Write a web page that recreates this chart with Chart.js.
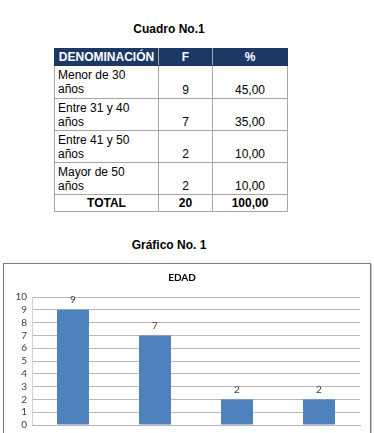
<!DOCTYPE html>
<html>
<head>
<meta charset="utf-8">
<script src="https://cdn.jsdelivr.net/npm/chart.js@4"></script>
<style>
    html, body { margin: 0; padding: 0; width: 374px; height: 433px; overflow: hidden; background: #fff; }
    .heading { position: absolute; left: 54px; width: 230px; text-align: center; font: bold 12px 'Liberation Sans', Arial, sans-serif; color: #000; }
    #cuadro { position: absolute; left: 54px; top: 48px; border-collapse: collapse; font: 12px 'Liberation Sans', Arial, sans-serif; color: #000; }
    #cuadro td, #cuadro th { border: 1.5px solid #a6a6a6; padding: 0 3px; line-height: 14px; }
    #cuadro th { background: #1c3966; color: #fff; height: 16px; font-weight: bold; border-color: #1c3966; border-right-color: #a6a6a6; }
    #cuadro th:last-child { border-right-color: #1c3966; }
    #cuadro td.num { text-align: center; vertical-align: bottom; padding-bottom: 1px; }
    #cuadro td.cat { vertical-align: top; padding-top: 2px; text-align: left; }
    #cuadro tr.total td { font-weight: bold; text-align: center; height: 16px; vertical-align: middle; }
    #chartBox { position: absolute; left: 3px; top: 263px; width: 368px; height: 197px; box-sizing: border-box; border: 1px solid #7f7f7f; box-shadow: 1px 1px 0 #c4c4c4; background: #fff; }
</style>
</head>
<body>
<div class="heading" style="top: 22px;">Cuadro No.1</div>
<table id="cuadro"></table>
<div class="heading" style="top: 238px;">Gráfico No. 1</div>
<div id="chartBox"><canvas id="chart1"></canvas></div>

<script>
const headers = ['DENOMINACIÓN', 'F', '%'];
const categories = [['Menor de 30', 'años'], ['Entre 31 y 40', 'años'], ['Entre 41 y 50', 'años'], ['Mayor de 50', 'años']];
const frequencies = [9, 7, 2, 2];
const percents = ['45,00', '35,00', '10,00', '10,00'];
const totals = ['TOTAL', '20', '100,00'];
const yTicks = [0, 1, 2, 3, 4, 5, 6, 7, 8, 9, 10];

// tabla
const table = document.getElementById('cuadro');
const colWidths = [97, 47, 68];
let html = '<tr>' + headers.map((h, i) => `<th style="width:${colWidths[i]}px">${h}</th>`).join('') + '</tr>';
categories.forEach((cat, i) => {
    const h = i === 0 ? 33 : 32;
    html += `<tr style="height:${h}px"><td class="cat">${cat.join('<br>')}</td><td class="num">${frequencies[i]}</td><td class="num">${percents[i]}</td></tr>`;
});
html += '<tr class="total">' + totals.map(t => `<td>${t}</td>`).join('') + '</tr>';
table.innerHTML = html;

// etiquetas encima de las barras
const valueLabels = {
    id: 'valueLabels',
    afterDatasetsDraw(chart) {
        const ctx = chart.ctx;
        const meta = chart.getDatasetMeta(0);
        ctx.save();
        ctx.font = '10px Lato';
        ctx.fillStyle = '#404040';
        ctx.textAlign = 'center';
        ctx.textBaseline = 'middle';
        meta.data.forEach((bar, i) => {
            ctx.fillText(chart.data.datasets[0].data[i], bar.x, bar.y - 10);
        });
        ctx.restore();
    }
};

const ctx = document.getElementById('chart1').getContext('2d');
new Chart(ctx, {
    type: 'bar',
    data: {
        labels: categories.map(c => c.join(' ')),
        datasets: [{
            label: 'EDAD',
            data: frequencies,
            backgroundColor: '#4f81bd',
            barPercentage: 0.39,
            categoryPercentage: 1
        }]
    },
    options: {
        responsive: true,
        maintainAspectRatio: false,
        animation: false,
        layout: { padding: { left: 0, right: 10, top: 0, bottom: 0 } },
        scales: {
            y: {
                min: 0,
                max: 10,
                afterFit: scale => { scale.width = 28; },
                afterBuildTicks: scale => { scale.ticks = yTicks.map(v => ({ value: v })); },
                ticks: {
                    autoSkip: false,
                    padding: 5,
                    font: { size: 10, family: 'Lato' },
                    color: '#404040'
                },
                grid: { color: '#b8b8b8', lineWidth: 1, drawTicks: false },
                border: { display: true, color: '#d0d0d0' }
            },
            x: {
                afterFit: scale => { scale.height = 34; },
                // las etiquetas quedan fuera del recorte
                ticks: { display: false },
                grid: { display: false },
                border: { display: true, color: '#b8b8b8' }
            }
        },
        plugins: {
            legend: { display: false },
            tooltip: { enabled: false },
            title: {
                display: true,
                text: 'EDAD',
                padding: { top: 8, bottom: 13 },
                font: { size: 10, family: 'Lato', weight: 'bold' },
                color: '#000'
            }
        }
    },
    plugins: [valueLabels]
});
</script>
</body>
</html>
